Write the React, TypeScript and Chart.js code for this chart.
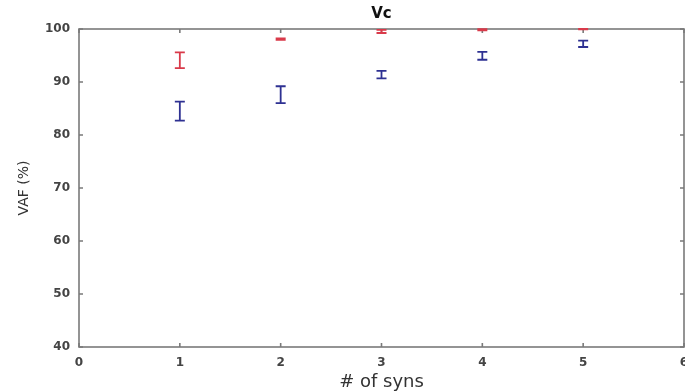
import React, { useEffect, useRef } from "react";
import { Chart, registerables } from "chart.js";

Chart.register(...registerables);

const categories = [1, 2, 3, 4, 5];
const redMeans = [94.1, 98.1, 99.55, 99.85, 99.97];
const redErrors = [1.5, 0.15, 0.3, 0.12, 0.05];
const blueMeans = [84.5, 87.6, 91.4, 94.95, 97.2];
const blueErrors = [1.8, 1.6, 0.7, 0.75, 0.6];
const xTicks = [0, 1, 2, 3, 4, 5, 6];
const yTicks = [40, 50, 60, 70, 80, 90, 100];

const RED = "#d93a4a";
const BLUE = "#2e3192";
const AXIS = "#7a7a7a";
const TEXT = "#444444";

const boxAndTicks = {
  id: "boxAndTicks",
  beforeDatasetsDraw(chart: any) {
    const { ctx, chartArea } = chart;
    const { left, right, top, bottom } = chartArea;
    const xs = chart.scales.x;
    const ys = chart.scales.y;
    ctx.save();
    ctx.strokeStyle = AXIS;
    ctx.lineWidth = 1.6;
    ctx.strokeRect(left, top, right - left, bottom - top);
    ctx.beginPath();
    const tl = 4;
    xTicks.forEach((v) => {
      const px = xs.getPixelForValue(v);
      ctx.moveTo(px, bottom);
      ctx.lineTo(px, bottom - tl);
      ctx.moveTo(px, top);
      ctx.lineTo(px, top + tl);
    });
    yTicks.forEach((v) => {
      const py = ys.getPixelForValue(v);
      ctx.moveTo(left, py);
      ctx.lineTo(left + tl, py);
      ctx.moveTo(right, py);
      ctx.lineTo(right - tl, py);
    });
    ctx.stroke();
    ctx.restore();
  },
};

const errorBars = {
  id: "errorBars",
  afterDatasetsDraw(chart: any) {
    const { ctx, chartArea } = chart;
    const xs = chart.scales.x;
    const ys = chart.scales.y;
    ctx.save();
    ctx.beginPath();
    ctx.rect(chartArea.left, chartArea.top - 1, chartArea.right - chartArea.left, chartArea.bottom - chartArea.top + 1);
    ctx.clip();
    chart.data.datasets.forEach((ds: any) => {
      ctx.strokeStyle = ds.borderColor;
      ctx.lineWidth = 1.8;
      ds.data.forEach((pt: any, i: number) => {
        const e = ds.errors[i];
        const px = xs.getPixelForValue(pt.x);
        const pt1 = ys.getPixelForValue(pt.y + e);
        const pt2 = ys.getPixelForValue(pt.y - e);
        const cap = 5;
        ctx.beginPath();
        ctx.moveTo(px, pt1);
        ctx.lineTo(px, pt2);
        ctx.moveTo(px - cap, pt1);
        ctx.lineTo(px + cap, pt1);
        ctx.moveTo(px - cap, pt2);
        ctx.lineTo(px + cap, pt2);
        ctx.stroke();
      });
    });
    ctx.restore();
  },
};

export default function App() {
  const ref = useRef<HTMLCanvasElement>(null);

  useEffect(() => {
    document.body.style.margin = "0";
    const canvas = ref.current;
    if (!canvas) return;
    const chart = new Chart(canvas, {
      type: "scatter",
      data: {
        datasets: [
          {
            label: "red",
            data: categories.map((c, i) => ({ x: c, y: redMeans[i] })),
            errors: redErrors,
            borderColor: RED,
            backgroundColor: RED,
            pointRadius: 0,
            showLine: false,
          } as any,
          {
            label: "blue",
            data: categories.map((c, i) => ({ x: c, y: blueMeans[i] })),
            errors: blueErrors,
            borderColor: BLUE,
            backgroundColor: BLUE,
            pointRadius: 0,
            showLine: false,
          } as any,
        ],
      },
      options: {
        responsive: false,
        animation: false,
        layout: { padding: { left: 0, right: 1, top: 0, bottom: 0 } },
        plugins: {
          legend: { display: false },
          tooltip: { enabled: false },
          title: {
            display: true,
            fullSize: false,
            text: "Vc",
            color: "#111",
            font: { family: "DejaVu Sans", size: 15, weight: "bold", lineHeight: 1.2 },
            padding: { top: 5, bottom: 6 },
          },
        },
        scales: {
          x: {
            type: "linear",
            min: 0,
            max: 6,
            afterBuildTicks: (s: any) => {
              s.ticks = xTicks.map((v) => ({ value: v }));
            },
            afterFit: (s: any) => {
              s.height = 45;
              s.paddingLeft = 0;
              s.paddingRight = 0;
            },
            grid: { display: false, drawTicks: false },
            border: { display: false },
            ticks: {
              color: TEXT,
              padding: 9,
              maxRotation: 0,
              font: { family: "DejaVu Sans", size: 12, weight: "bold" },
            },
            title: {
              display: true,
              text: "# of syns",
              color: "#333",
              font: { family: "DejaVu Sans", size: 18, lineHeight: 1 },
              padding: { top: 0, bottom: 1 },
            },
          },
          y: {
            type: "linear",
            min: 40,
            max: 100,
            afterBuildTicks: (s: any) => {
              s.ticks = yTicks.map((v) => ({ value: v }));
            },
            afterFit: (s: any) => {
              s.width = 79;
            },
            grid: { display: false, drawTicks: false },
            border: { display: false },
            ticks: {
              color: TEXT,
              padding: 9,
              font: { family: "DejaVu Sans", size: 12, weight: "bold" },
            },
            title: {
              display: true,
              text: "VAF (%)",
              color: "#333",
              font: { family: "DejaVu Sans", size: 14, lineHeight: 1.2 },
              padding: { top: 16, bottom: 0 },
            },
          },
        },
      },
      plugins: [boxAndTicks, errorBars],
    });
    return () => chart.destroy();
  }, []);

  return (
    <div style={{ width: 685, height: 392 }}>
      <canvas ref={ref} width={685} height={392} />
    </div>
  );
}
